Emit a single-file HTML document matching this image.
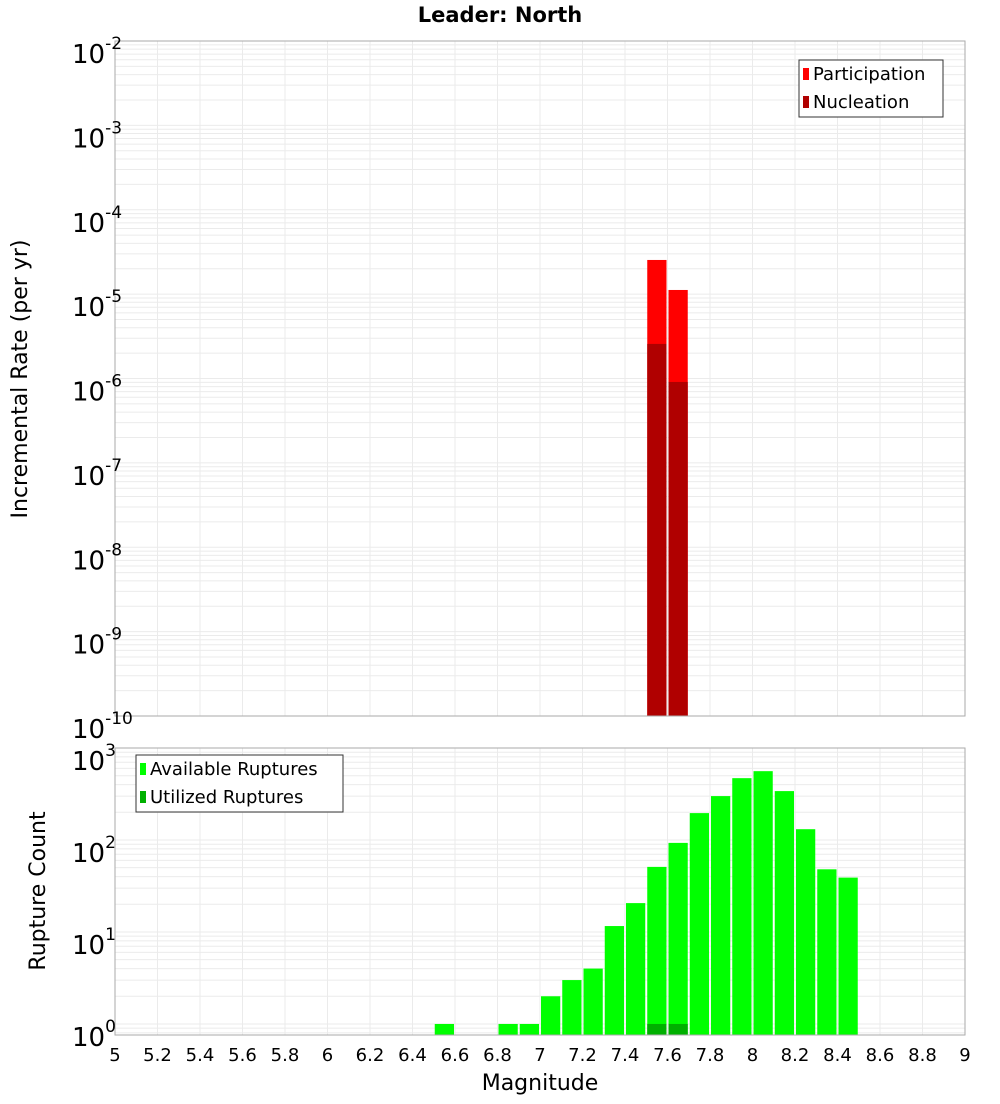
<!DOCTYPE html>
<html><head><meta charset="utf-8"><style>
body{margin:0;background:#fff;font-family:"DejaVu Sans","Liberation Sans",sans-serif}
svg text{font-family:"DejaVu Sans","Liberation Sans",sans-serif}
</style></head><body>
<svg id="c" width="1000" height="1100" xmlns="http://www.w3.org/2000/svg"></svg>
<script>
const topMags=[7.55,7.65];
const participation=[2.54e-5,1.12e-5];
const nucleation=[2.57e-6,9.1e-7];
const botMags=[6.55,6.85,6.95,7.05,7.15,7.25,7.35,7.45,7.55,7.65,7.75,7.85,7.95,8.05,8.15,8.25,8.35,8.45];
const available=[1,1,1,2,3,4,11.6,20.6,51,93,196,300,470,560,340,131,48,39];
const utilMags=[7.55,7.65];
const utilized=[1,1];
const xTicks=[5,5.2,5.4,5.6,5.8,6,6.2,6.4,6.6,6.8,7,7.2,7.4,7.6,7.8,8,8.2,8.4,8.6,8.8,9];
const topExp=[-2,-3,-4,-5,-6,-7,-8,-9,-10];
const botExp=[3,2,1,0];

const svg=document.getElementById('c');const NS='http://www.w3.org/2000/svg';
function el(t,a,p){const e=document.createElementNS(NS,t);for(const k in a)e.setAttribute(k,a[k]);(p||svg).appendChild(e);return e;}
const L=115,R=965;
const X=m=>L+(m-5)/4*(R-L);
const T1=41,B1=716,T2=748,B2=1035;
const Yt=v=>T1+(-2-Math.log10(v))/8*(B1-T1);
const bLo=-0.12,bHi=3;
const Yb=v=>B2-(Math.log10(v)-bLo)/(bHi-bLo)*(B2-T2);
const bw=(X(5.1)-X(5))-2;

function grid(top,bot,yf,lo,hi){
  const g=el('g',{});
  
  for(let e=Math.floor(lo);e<=hi;e++)for(let k=1;k<10;k++){const v=k*Math.pow(10,e);const y=yf(v);if(y<top-0.5||y>bot+0.5)continue;
    el('line',{x1:L,x2:R,y1:y,y2:y,stroke:'#ebebeb','stroke-width':1},g);}
  xTicks.forEach(t=>{const x=X(t);el('line',{x1:x,x2:x,y1:top,y2:bot,stroke:'#ebebeb','stroke-width':1},g);});
}
grid(T1,B1,Yt,-10,-2);grid(T2,B2,Yb,-1,3);

// top bars
topMags.forEach((m,i)=>{
  const r=el('rect',{x:X(m)-bw/2,y:Yt(participation[i]),width:bw,height:B1-Yt(participation[i]),fill:'#ff0000'});
  
  const n=el('rect',{x:X(m)-bw/2,y:Yt(nucleation[i]),width:bw,height:B1-Yt(nucleation[i]),fill:'#b00000'});
  
});
botMags.forEach((m,i)=>{
  const r=el('rect',{x:X(m)-bw/2,y:Yb(available[i]),width:bw,height:B2-Yb(available[i]),fill:'#00ff00'});
  
});
utilMags.forEach((m,i)=>{
  const r=el('rect',{x:X(m)-bw/2,y:Yb(utilized[i]),width:bw,height:B2-Yb(utilized[i]),fill:'#00b000'});
  
});
// frames
el('rect',{x:L,y:T1,width:R-L,height:B1-T1,fill:'none',stroke:'#aaa'});
el('rect',{x:L,y:T2,width:R-L,height:B2-T2,fill:'none',stroke:'#aaa'});

// y labels
function ylab(e,y,nm){const t=el('text',{x:72,y:y+22,'font-size':26,fill:'#000'});
  t.textContent='10';const s=el('tspan',{dy:-14,'font-size':17},t);s.textContent=String(e);}
topExp.forEach(e=>ylab(e,Yt(Math.pow(10,e)),'top-y-tick'));
botExp.forEach(e=>ylab(e,Yb(Math.pow(10,e)),'bottom-y-tick'));
xTicks.forEach(t=>{const x=el('text',{x:X(t),y:1061,'font-size':18,'text-anchor':'middle'});x.textContent=String(t);});

function txt(s,a,nm){const t=el('text',a);t.textContent=s;return t;}
txt('Leader: North',{x:500,y:22,'font-size':21,'font-weight':'bold','text-anchor':'middle'},'chart-title');
txt('Incremental Rate (per yr)',{x:0,y:0,'font-size':22,'text-anchor':'middle',transform:'translate(27,379) rotate(-90)'},'top-y-axis-title');
txt('Rupture Count',{x:0,y:0,'font-size':22,'text-anchor':'middle',transform:'translate(45,891) rotate(-90)'},'bottom-y-axis-title');
txt('Magnitude',{x:540,y:1090,'font-size':22,'text-anchor':'middle'},'x-axis-title');

// legends
function legend(x,y,w,items,nm){const g=el('g',{});
  el('rect',{x:x,y:y,width:w,height:57,fill:'#fff',stroke:'#333'},g);
  items.forEach((it,i)=>{el('rect',{x:x+4,y:y+8+i*28,width:6,height:12,fill:it[1]},g);
    const t=el('text',{x:x+14,y:y+20+i*28,'font-size':18},g);t.textContent=it[0];});}
legend(799,60,144,[['Participation','#ff0000'],['Nucleation','#b00000']],'top-legend');
legend(136,755,207,[['Available Ruptures','#00ff00'],['Utilized Ruptures','#00b000']],'bottom-legend');
</script>
</body></html>
